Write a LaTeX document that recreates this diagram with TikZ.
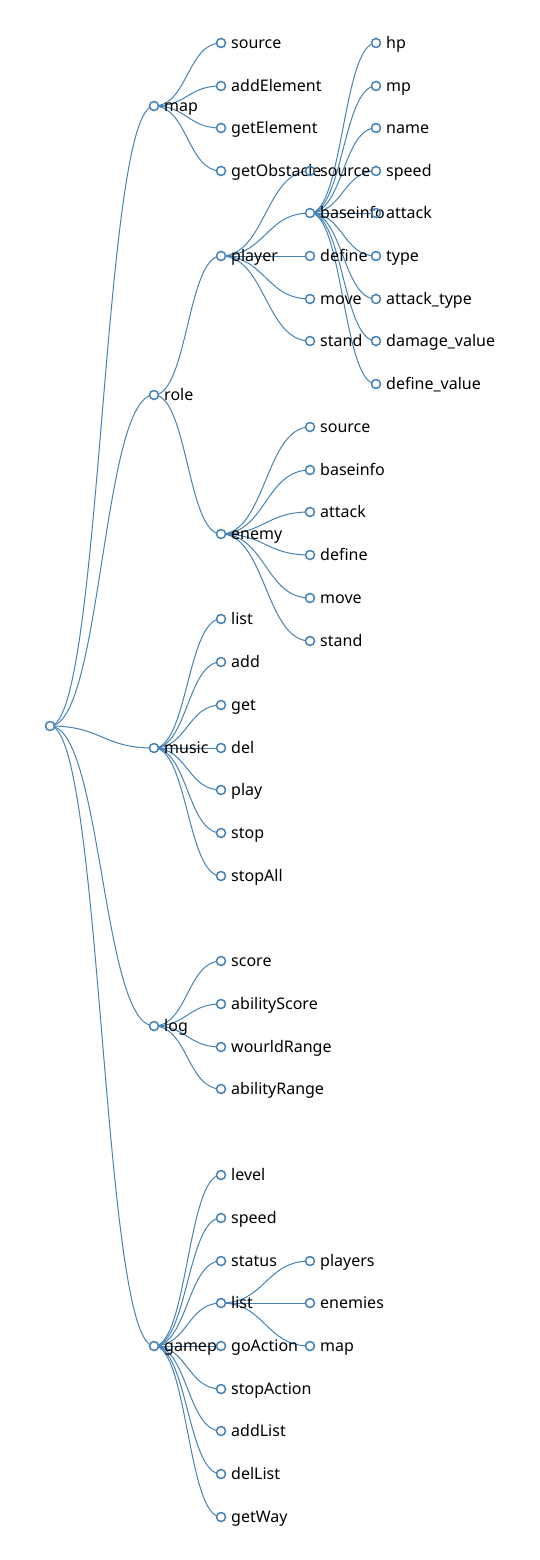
\documentclass[tikz,border=0pt]{standalone}
\usepackage{fontspec}
\setmainfont{Noto Sans}
\usetikzlibrary{calc,backgrounds}
\definecolor{steel}{HTML}{4682B4}
\begin{document}
\begin{tikzpicture}[x=1pt,y=-1pt,
  dot/.style={circle,draw=steel,line width=1.5pt,minimum size=9pt,inner sep=0pt},
  lbl/.style={inner sep=0pt,text height=14pt,text depth=2.8pt,font=\fontsize{16}{19}\selectfont},
  every label/.style={lbl},
  label distance=4.75pt,
  link/.style={draw=steel,line width=1pt}]
\useasboundingbox (0,0) rectangle (539,1560);
% root and first level
\node[dot] (root) at (50,726) {};
\node[dot,label=right:map] (map) at (154,106) {};
\node[dot,label=right:role] (role) at (154,395) {};
\node[dot,label=right:music] (music) at (154,748) {};
\node[dot,label=right:log] (log) at (154,1026) {};
\node[dot,label=right:gamep] (gamep) at (154,1346) {};
% map
\node[dot,label=right:source] (mapSource) at (221,43) {};
\node[dot,label=right:addElement] (addElement) at (221,86) {};
\node[dot,label=right:getElement] (getElement) at (221,128) {};
\node[dot,label=right:getObstacle] (getObstacle) at (221,171) {};
% role
\node[dot,label=right:player] (player) at (221,256) {};
\node[dot,label=right:enemy] (enemy) at (221,534) {};
\node[dot,label=right:source] (plSource) at (310,171) {};
\node[dot,label=right:baseinfo] (baseinfo) at (310,213) {};
\node[dot,label=right:define] (plDefine) at (310,256) {};
\node[dot,label=right:move] (plMove) at (310,299) {};
\node[dot,label=right:stand] (plStand) at (310,341) {};
\node[dot,label=right:hp] (hp) at (376,43) {};
\node[dot,label=right:mp] (mp) at (376,86) {};
\node[dot,label=right:name] (name) at (376,128) {};
\node[dot,label=right:speed] (speed) at (376,171) {};
\node[dot,label=right:attack] (attack) at (376,213) {};
\node[dot,label=right:type] (type) at (376,256) {};
\node[dot,label=right:attack\_type] (attackType) at (376,299) {};
\node[dot,label=right:damage\_value] (damageValue) at (376,341) {};
\node[dot,label=right:define\_value] (defineValue) at (376,384) {};
\node[dot,label=right:source] (enSource) at (310,427) {};
\node[dot,label=right:baseinfo] (enBaseinfo) at (310,470) {};
\node[dot,label=right:attack] (enAttack) at (310,512) {};
\node[dot,label=right:define] (enDefine) at (310,555) {};
\node[dot,label=right:move] (enMove) at (310,598) {};
\node[dot,label=right:stand] (enStand) at (310,641) {};
% music
\node[dot,label=right:list] (muList) at (221,619) {};
\node[dot,label=right:add] (muAdd) at (221,662) {};
\node[dot,label=right:get] (muGet) at (221,705) {};
\node[dot,label=right:del] (muDel) at (221,748) {};
\node[dot,label=right:play] (muPlay) at (221,790) {};
\node[dot,label=right:stop] (muStop) at (221,833) {};
\node[dot,label=right:stopAll] (muStopAll) at (221,876) {};
% log
\node[dot,label=right:score] (score) at (221,961) {};
\node[dot,label=right:abilityScore] (abilityScore) at (221,1004) {};
\node[dot,label=right:wourldRange] (wourldRange) at (221,1047) {};
\node[dot,label=right:abilityRange] (abilityRange) at (221,1089) {};
% gamep
\node[dot,label=right:level] (level) at (221,1175) {};
\node[dot,label=right:speed] (gSpeed) at (221,1218) {};
\node[dot,label=right:status] (status) at (221,1261) {};
\node[dot,label=right:list] (gList) at (221,1303) {};
\node[dot,label=right:goAction] (goAction) at (221,1346) {};
\node[dot,label=right:stopAction] (stopAction) at (221,1389) {};
\node[dot,label=right:addList] (addList) at (221,1431) {};
\node[dot,label=right:delList] (delList) at (221,1474) {};
\node[dot,label=right:getWay] (getWay) at (221,1517) {};
\node[dot,label=right:players] (players) at (310,1261) {};
\node[dot,label=right:enemies] (enemies) at (310,1303) {};
\node[dot,label=right:map] (gMap) at (310,1346) {};
% links
\def\links{root/map,root/role,root/music,root/log,root/gamep,
  map/mapSource,map/addElement,map/getElement,map/getObstacle,
  role/player,role/enemy,
  player/plSource,player/baseinfo,player/plDefine,player/plMove,player/plStand,
  baseinfo/hp,baseinfo/mp,baseinfo/name,baseinfo/speed,baseinfo/attack,
  baseinfo/type,baseinfo/attackType,baseinfo/damageValue,baseinfo/defineValue,
  enemy/enSource,enemy/enBaseinfo,enemy/enAttack,enemy/enDefine,enemy/enMove,enemy/enStand,
  music/muList,music/muAdd,music/muGet,music/muDel,music/muPlay,music/muStop,music/muStopAll,
  log/score,log/abilityScore,log/wourldRange,log/abilityRange,
  gamep/level,gamep/gSpeed,gamep/status,gamep/gList,gamep/goAction,
  gamep/stopAction,gamep/addList,gamep/delList,gamep/getWay,
  gList/players,gList/enemies,gList/gMap}
\begin{scope}[on background layer]
\foreach \a/\b in \links {
\draw[link] let \p1=(\a.center), \p2=(\b.center) in
  (\p1) .. controls ({(\x1+\x2)/2},\y1) and ({(\x1+\x2)/2},\y2) .. (\p2);
}
% white insides of the circles
\fill[white] (root.center) circle (4.5pt);
\foreach \a/\b in \links
  \fill[white] (\b.center) circle (4.5pt);
\end{scope}
\end{tikzpicture}
\end{document}
